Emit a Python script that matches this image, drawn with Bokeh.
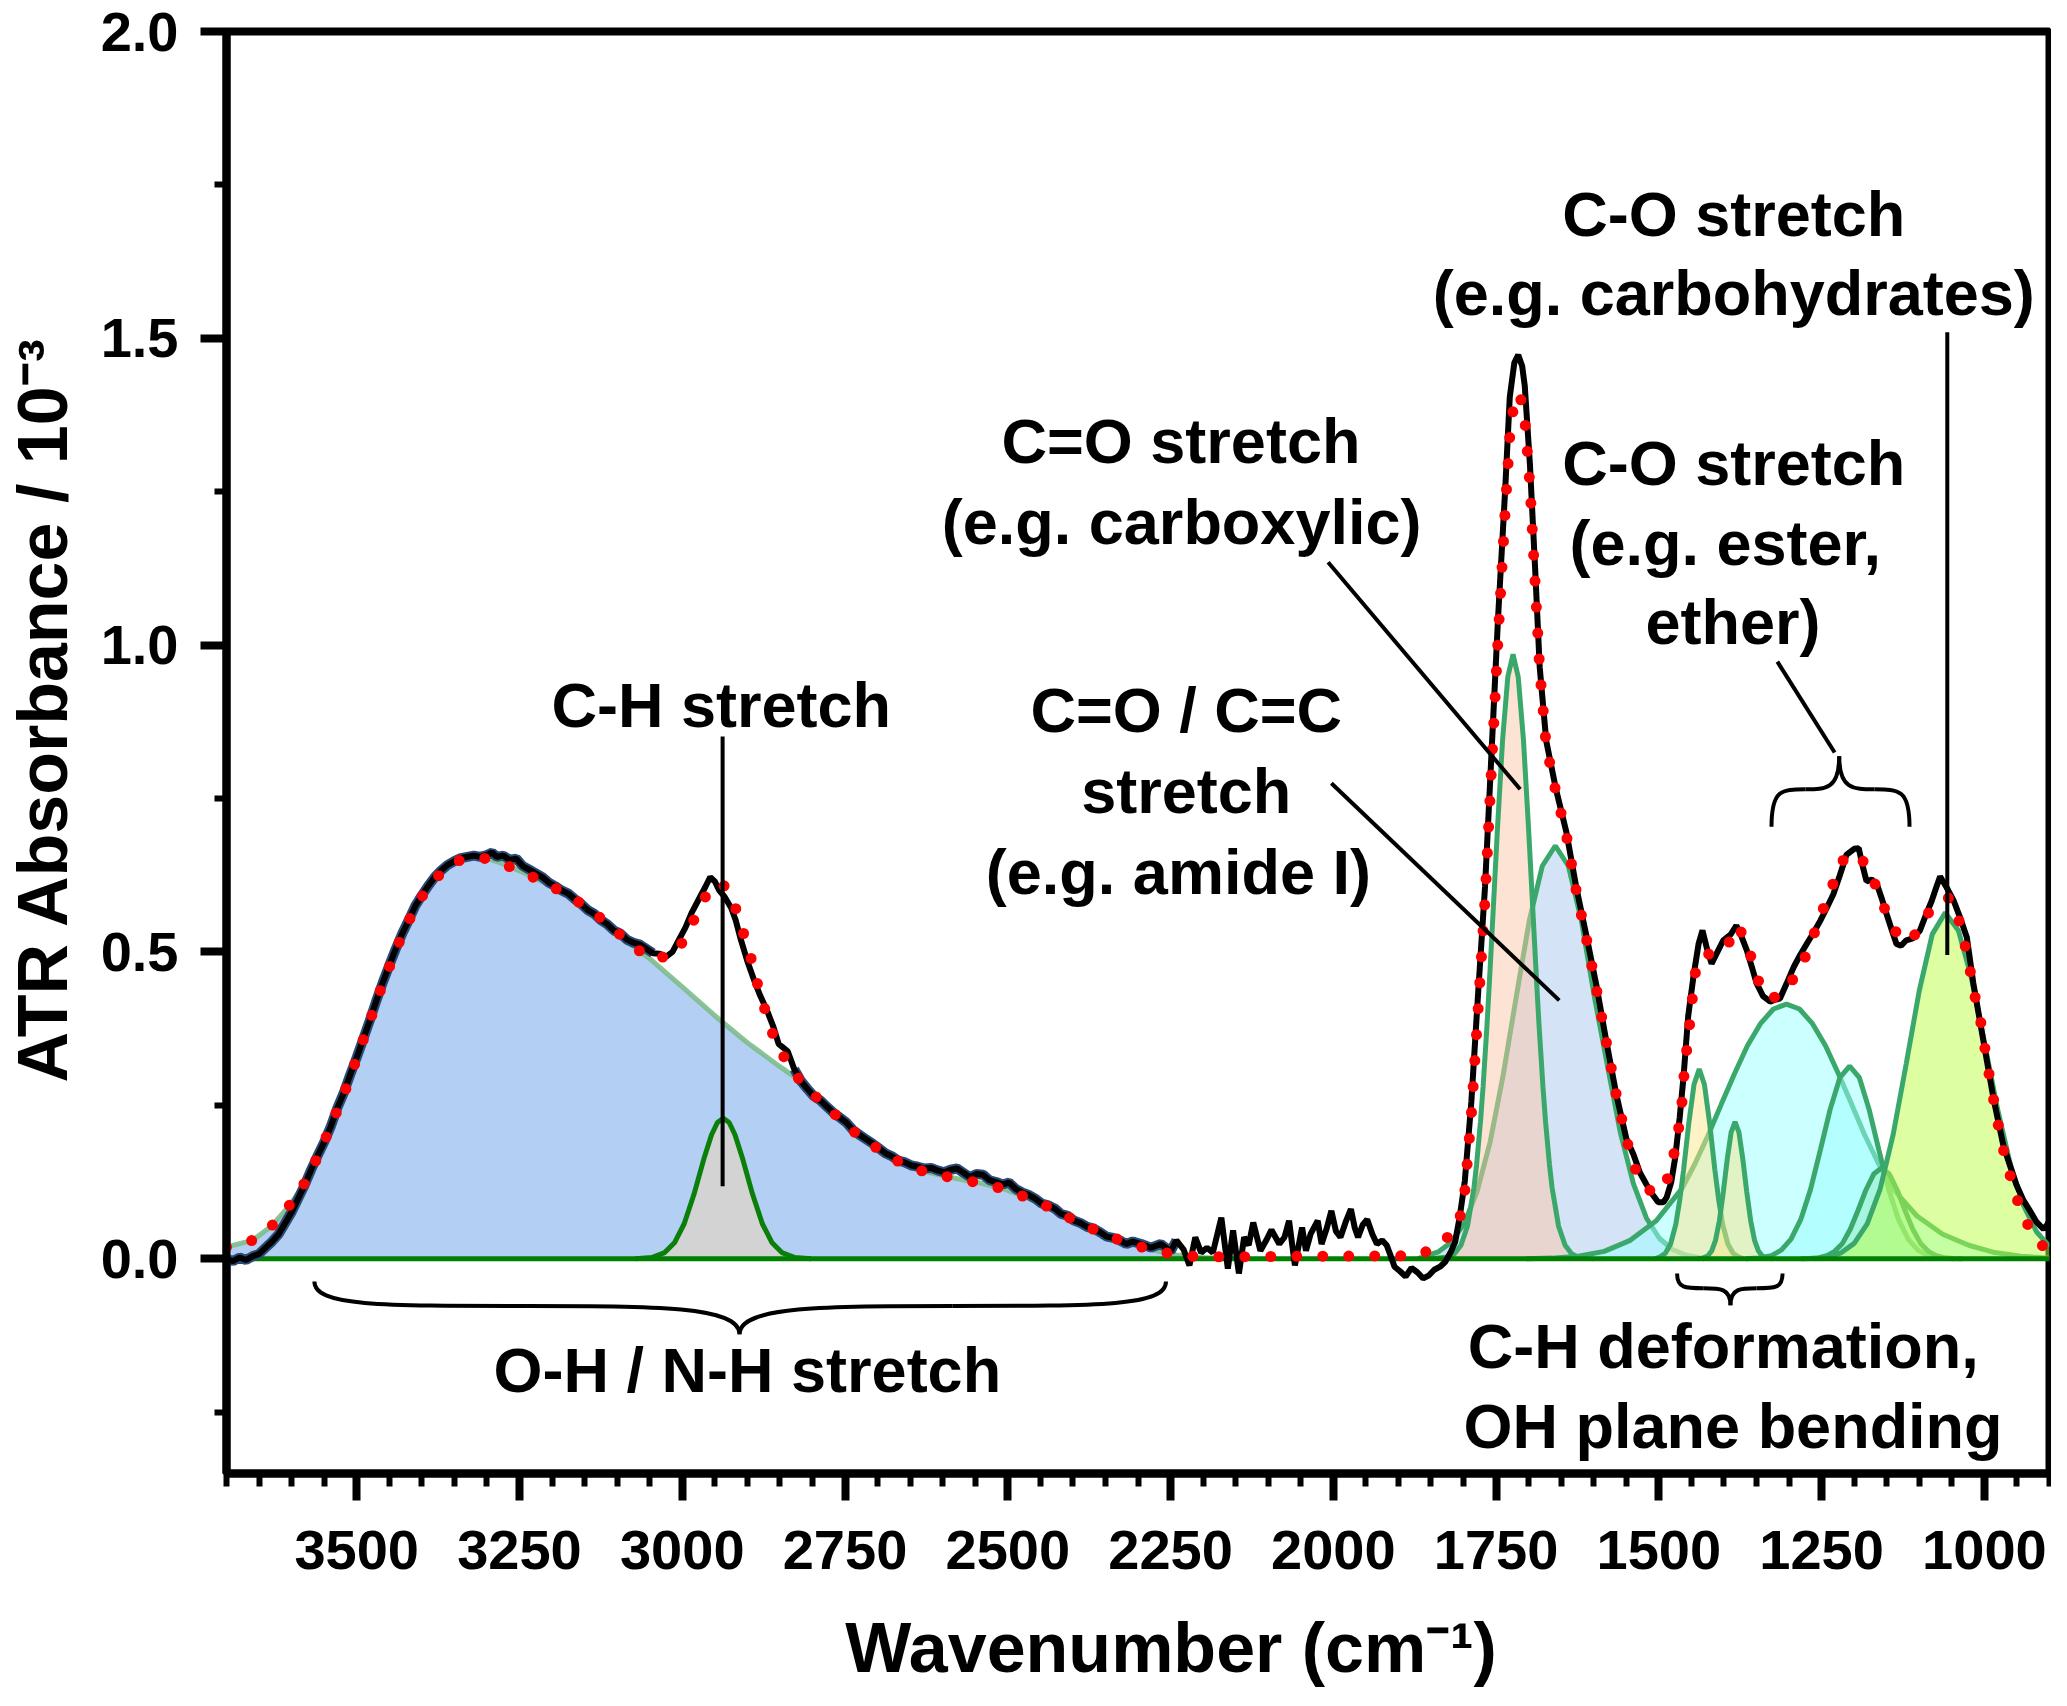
import numpy as np
from bokeh.plotting import figure
from bokeh.layouts import row, column
from bokeh.models import Range1d, FixedTicker, NumeralTickFormatter, Label
from bokeh.core.properties import value
from bokeh.embed import file_html
from bokeh.resources import INLINE

FONT = "Liberation Sans"

# ---- measured ATR spectrum (black) ----
spec_wn = [3700, 3690, 3680, 3670, 3660, 3650, 3640, 3630, 3620, 3610,
           3600, 3590, 3580, 3570, 3560, 3550, 3540, 3530, 3520, 3510,
           3500, 3490, 3480, 3470, 3460, 3450, 3440, 3430, 3420, 3410,
           3400, 3390, 3380, 3370, 3360, 3350, 3340, 3330, 3320, 3310,
           3300, 3292, 3285, 3275, 3265, 3255, 3245, 3235, 3225, 3215,
           3205, 3195, 3185, 3175, 3165, 3155, 3145, 3135, 3125, 3115,
           3105, 3095, 3085, 3075, 3065, 3055, 3045, 3035, 3025, 3015,
           3005, 2995, 2985, 2975, 2965, 2957, 2950, 2943, 2935, 2925,
           2918, 2910, 2900, 2890, 2880, 2870, 2860, 2852, 2845, 2838,
           2828, 2818, 2808, 2798, 2788, 2778, 2768, 2758, 2748, 2738,
           2728, 2718, 2708, 2698, 2688, 2678, 2668, 2658, 2648, 2638,
           2628, 2618, 2608, 2598, 2588, 2578, 2568, 2558, 2548, 2538,
           2528, 2518, 2508, 2498, 2488, 2478, 2468, 2458, 2448, 2438,
           2428, 2418, 2408, 2398, 2388, 2378, 2368, 2358, 2348, 2338,
           2328, 2318, 2308, 2295, 2280, 2265, 2250, 2241, 2230, 2221,
           2212, 2203, 2194, 2185, 2172, 2162, 2154, 2145, 2137, 2130,
           2123, 2112, 2103, 2095, 2083, 2075, 2068, 2059, 2048, 2042,
           2035, 2024, 2018, 2010, 2003, 1996, 1989, 1981, 1973, 1967,
           1962, 1955, 1948, 1940, 1933, 1925, 1918, 1912, 1906, 1898,
           1889, 1880, 1871, 1862, 1853, 1845, 1836, 1828, 1820, 1813,
           1806, 1798, 1788, 1778, 1767, 1757, 1747, 1736, 1729, 1722,
           1716, 1710, 1706, 1698, 1690, 1683, 1673, 1658, 1642, 1627,
           1611, 1596, 1581, 1565, 1550, 1539, 1529, 1519, 1510, 1501,
           1493, 1488, 1481, 1475, 1468, 1462, 1455, 1447, 1439, 1433,
           1426, 1419, 1410, 1401, 1390, 1381, 1373, 1365, 1357, 1350,
           1340, 1329, 1322, 1314, 1304, 1293, 1283, 1273, 1262, 1252,
           1242, 1232, 1222, 1212, 1200, 1193, 1187, 1181, 1173, 1165,
           1157, 1150, 1142, 1135, 1128, 1120, 1110, 1099, 1090, 1081,
           1074, 1068, 1058, 1047, 1037, 1027, 1017, 1001, 986, 971,
           951, 940, 930, 920, 909, 904, 899]
spec_abs = [0.000, -0.004, 0.002, -0.002, 0.004, 0.008, 0.018, 0.028, 0.040, 0.058,
            0.076, 0.098, 0.120, 0.145, 0.168, 0.190, 0.215, 0.245, 0.270, 0.300,
            0.328, 0.358, 0.388, 0.420, 0.450, 0.478, 0.505, 0.530, 0.552, 0.575,
            0.592, 0.608, 0.622, 0.633, 0.642, 0.648, 0.653, 0.655, 0.657, 0.655,
            0.658, 0.662, 0.655, 0.657, 0.650, 0.652, 0.640, 0.634, 0.628, 0.622,
            0.613, 0.607, 0.600, 0.595, 0.586, 0.578, 0.568, 0.562, 0.552, 0.545,
            0.535, 0.530, 0.520, 0.515, 0.512, 0.505, 0.498, 0.497, 0.492, 0.500,
            0.520, 0.540, 0.565, 0.585, 0.605, 0.622, 0.615, 0.600, 0.590, 0.572,
            0.552, 0.520, 0.485, 0.455, 0.428, 0.405, 0.378, 0.350, 0.344, 0.338,
            0.309, 0.290, 0.277, 0.265, 0.258, 0.248, 0.238, 0.230, 0.222, 0.210,
            0.202, 0.195, 0.188, 0.180, 0.172, 0.167, 0.160, 0.157, 0.152, 0.150,
            0.147, 0.148, 0.144, 0.141, 0.145, 0.147, 0.140, 0.133, 0.138, 0.137,
            0.128, 0.125, 0.121, 0.124, 0.114, 0.108, 0.104, 0.098, 0.090, 0.087,
            0.082, 0.073, 0.070, 0.062, 0.058, 0.052, 0.049, 0.043, 0.036, 0.034,
            0.030, 0.024, 0.028, 0.024, 0.018, 0.024, 0.012, 0.030, 0.015, -0.011,
            0.035, 0.010, 0.018, 0.010, 0.067, -0.016, 0.046, -0.024, 0.035, 0.022,
            0.059, 0.013, 0.030, 0.047, 0.024, 0.035, 0.062, -0.011, 0.051, 0.013,
            0.040, 0.062, 0.024, 0.050, 0.078, 0.045, 0.035, 0.060, 0.081, 0.050,
            0.035, 0.055, 0.064, 0.040, 0.024, 0.030, 0.022, 0.005, -0.013, -0.020,
            -0.029, -0.015, -0.022, -0.032, -0.027, -0.018, -0.013, -0.005, 0.010, 0.027,
            0.067, 0.127, 0.256, 0.426, 0.606, 0.825, 1.044, 1.254, 1.404, 1.460,
            1.473, 1.455, 1.423, 1.294, 1.124, 0.964, 0.844, 0.765, 0.695, 0.606,
            0.525, 0.446, 0.356, 0.266, 0.196, 0.170, 0.140, 0.121, 0.105, 0.092,
            0.092, 0.100, 0.125, 0.164, 0.230, 0.298, 0.395, 0.459, 0.513, 0.535,
            0.505, 0.481, 0.500, 0.519, 0.528, 0.543, 0.525, 0.503, 0.475, 0.449,
            0.428, 0.419, 0.422, 0.424, 0.448, 0.475, 0.495, 0.513, 0.532, 0.551,
            0.572, 0.594, 0.625, 0.658, 0.668, 0.669, 0.640, 0.615, 0.618, 0.610,
            0.585, 0.561, 0.535, 0.513, 0.510, 0.519, 0.522, 0.535, 0.560, 0.583,
            0.605, 0.623, 0.605, 0.583, 0.555, 0.524, 0.449, 0.352, 0.261, 0.185,
            0.121, 0.095, 0.078, 0.060, 0.048, 0.055, 0.064]

# ---- cumulative fit (red dotted) ----
fit_wn = [3700, 3660, 3631, 3607, 3586, 3567, 3551, 3536, 3522, 3508,
          3496, 3482, 3470, 3456, 3442, 3426, 3409, 3387, 3356, 3338,
          3320, 3300, 3281, 3245, 3208, 3171, 3138, 3109, 3081, 3050,
          3013, 2993, 2977, 2958, 2940, 2931, 2916, 2905, 2893,
          2884, 2873, 2861, 2842, 2817, 2789, 2759, 2732, 2702, 2671,
          2635, 2599, 2562, 2540, 2504, 2467, 2430, 2394, 2355, 2318,
          2281, 2241, 2202, 1869, 1844, 1816, 1806,
          1798, 1788, 1778, 1767, 1757, 1747, 1736, 1729, 1721, 1713,
          1706, 1698, 1690, 1683, 1673, 1658, 1642, 1627, 1611, 1596,
          1581, 1565, 1550, 1537, 1516, 1500, 1491, 1480, 1473, 1466,
          1463, 1460, 1455, 1451, 1447, 1442, 1432, 1421, 1410, 1398,
          1388, 1379, 1364, 1353, 1340, 1325, 1309, 1287, 1270, 1257,
          1243, 1229, 1218, 1207, 1192, 1178, 1164, 1149, 1129, 1115,
          1103, 1084, 1068, 1054, 1041, 1031, 1023, 1017, 1007, 1001,
          995, 988, 981, 974, 964, 954, 941, 920, 900]
fit_abs = [0.019, 0.030, 0.053, 0.082, 0.112, 0.150, 0.188, 0.226, 0.262, 0.301,
           0.340, 0.379, 0.420, 0.458, 0.498, 0.537, 0.575, 0.611, 0.643, 0.651,
           0.654, 0.652, 0.646, 0.630, 0.611, 0.590, 0.566, 0.541, 0.514, 0.489,
           0.494, 0.527, 0.564, 0.603, 0.612, 0.603, 0.566, 0.527, 0.485,
           0.446, 0.406, 0.366, 0.325, 0.287, 0.258, 0.229, 0.203, 0.181, 0.160,
           0.144, 0.135, 0.127, 0.123, 0.113, 0.098, 0.081, 0.060, 0.042, 0.026,
           0.015, 0.006, 0.003, 0.005, 0.019, 0.042, 0.065,
           0.110, 0.235, 0.400, 0.585, 0.800, 1.010, 1.220, 1.340, 1.408, 1.405,
           1.370, 1.260, 1.100, 0.960, 0.835, 0.760, 0.690, 0.600, 0.520, 0.440,
           0.355, 0.265, 0.195, 0.148, 0.112, 0.108, 0.117, 0.153, 0.193, 0.234,
           0.276, 0.317, 0.359, 0.400, 0.440, 0.482, 0.495, 0.497, 0.499, 0.503,
           0.525, 0.543, 0.513, 0.471, 0.432, 0.425, 0.433, 0.466, 0.503, 0.544,
           0.583, 0.620, 0.648, 0.661, 0.655, 0.637, 0.600, 0.559, 0.519, 0.520,
           0.532, 0.567, 0.585, 0.588, 0.559, 0.517, 0.477, 0.438, 0.395, 0.355,
           0.314, 0.272, 0.231, 0.191, 0.150, 0.110, 0.070, 0.031, 0.010]

# ---- fitted component bands ----
oh_wn = [3700, 3660, 3631, 3607, 3586, 3567, 3551, 3536, 3522, 3508,
         3496, 3482, 3470, 3456, 3442, 3426, 3409, 3387, 3356, 3338,
         3320, 3300, 3281, 3245, 3208, 3171, 3138, 3109, 3081, 3050,
         3000, 2950, 2900, 2850, 2815, 2789, 2759, 2732, 2702, 2671,
         2635, 2599, 2562, 2540, 2504, 2467, 2430, 2394, 2355, 2318,
         2281, 2241, 2202, 2160]
oh_abs = [0.019, 0.030, 0.053, 0.082, 0.112, 0.150, 0.188, 0.226, 0.262, 0.301,
          0.340, 0.379, 0.420, 0.458, 0.498, 0.537, 0.575, 0.611, 0.643, 0.651,
          0.654, 0.652, 0.646, 0.630, 0.611, 0.590, 0.566, 0.541, 0.514, 0.489,
          0.443, 0.396, 0.352, 0.313, 0.287, 0.258, 0.229, 0.203, 0.181, 0.160,
          0.144, 0.135, 0.127, 0.123, 0.113, 0.098, 0.081, 0.060, 0.042, 0.026,
          0.015, 0.006, 0.002, 0.0]

ch_wn = [3072, 3047, 3027, 3012, 2997, 2982, 2967, 2955, 2946, 2937,
         2928, 2919, 2907, 2892, 2877, 2862, 2847, 2827, 2802]
ch_abs = [0.0, 0.002, 0.010, 0.026, 0.057, 0.105, 0.162, 0.202, 0.222, 0.229,
          0.222, 0.202, 0.162, 0.105, 0.057, 0.026, 0.010, 0.002, 0.0]

acid_wn = [1850, 1824, 1814, 1804, 1794, 1784, 1780, 1774, 1770, 1764, 1760,
           1754, 1748, 1740, 1732, 1724, 1716, 1708, 1700, 1694, 1688,
           1684, 1678, 1674, 1668, 1664, 1654, 1644, 1634, 1624, 1600]
acid_abs = [0.0, 0.003, 0.008, 0.022, 0.053, 0.116, 0.153, 0.223, 0.280, 0.380, 0.456,
            0.577, 0.699, 0.846, 0.948, 0.985, 0.948, 0.846, 0.699, 0.577, 0.456,
            0.380, 0.280, 0.223, 0.153, 0.116, 0.053, 0.022, 0.008, 0.003, 0.0]

amide_wn = [1870, 1859, 1839, 1819, 1799, 1779, 1759, 1739, 1719, 1699,
            1679, 1659, 1639, 1619, 1599, 1579, 1559, 1539, 1519, 1499,
            1479, 1459, 1430]
amide_abs = [0.0, 0.004, 0.011, 0.027, 0.057, 0.110, 0.191, 0.300, 0.427, 0.551,
             0.640, 0.673, 0.640, 0.551, 0.427, 0.315, 0.205, 0.122, 0.066, 0.033,
             0.015, 0.006, 0.0]

b1438_wn = [1506, 1498, 1490, 1482, 1474, 1468, 1462, 1454, 1446, 1438,
            1430, 1422, 1414, 1408, 1402, 1394, 1386, 1378, 1370]
b1438_abs = [0.0, 0.003, 0.009, 0.024, 0.056, 0.095, 0.145, 0.221, 0.284, 0.309,
             0.284, 0.221, 0.145, 0.095, 0.056, 0.024, 0.009, 0.003, 0.0]

b1383_wn = [1441, 1433, 1425, 1419, 1413, 1407, 1401, 1395, 1389, 1383,
            1377, 1371, 1365, 1359, 1353, 1347, 1341, 1333, 1325]
b1383_abs = [0.0, 0.001, 0.0045, 0.0125, 0.030, 0.062, 0.109, 0.162, 0.206, 0.223,
             0.206, 0.162, 0.109, 0.062, 0.030, 0.0125, 0.0045, 0.001, 0.0]

b1304_wn = [1704, 1664, 1624, 1584, 1544, 1504, 1464, 1444, 1424, 1404,
            1384, 1364, 1344, 1324, 1304, 1284, 1264, 1244, 1224, 1204,
            1184, 1164, 1144, 1104, 1064, 1024, 984, 944, 900]
b1304_abs = [0.0, 0.001, 0.004, 0.012, 0.030, 0.062, 0.115, 0.156, 0.202, 0.252,
             0.301, 0.347, 0.383, 0.407, 0.415, 0.407, 0.383, 0.347, 0.301, 0.252,
             0.202, 0.158, 0.118, 0.070, 0.040, 0.022, 0.010, 0.004, 0.001]

b1207_wn = [1367, 1347, 1327, 1312, 1297, 1282, 1267, 1252, 1237, 1222,
            1207, 1192, 1177, 1162, 1147, 1132, 1117, 1102, 1087, 1067, 1047]
b1207_abs = [0.0, 0.0012, 0.005, 0.014, 0.032, 0.064, 0.113, 0.177, 0.243, 0.295,
             0.314, 0.295, 0.243, 0.177, 0.113, 0.064, 0.032, 0.014, 0.005, 0.0012, 0.0]

b1158_wn = [1282, 1268, 1254, 1242, 1230, 1218, 1206, 1194, 1182, 1170,
            1158, 1146, 1134, 1122, 1110, 1098, 1086, 1074, 1062, 1048, 1034]
b1158_abs = [0.0, 0.0004, 0.0016, 0.005, 0.012, 0.025, 0.048, 0.079, 0.112, 0.138,
             0.148, 0.138, 0.112, 0.079, 0.048, 0.025, 0.012, 0.005, 0.0016, 0.0004, 0.0]

b1060_wn = [1260, 1240, 1220, 1200, 1180, 1160, 1140, 1120, 1100, 1080,
            1060, 1040, 1020, 1000, 980, 960, 940, 920, 900]
b1060_abs = [0.0, 0.003, 0.0096, 0.025, 0.057, 0.114, 0.203, 0.318, 0.437, 0.529,
             0.564, 0.535, 0.458, 0.353, 0.245, 0.153, 0.087, 0.044, 0.020]

# ---- axes ----
x_major = [3500, 3250, 3000, 2750, 2500, 2250, 2000, 1750, 1500, 1250, 1000]
x_minor = list(range(900, 3701, 50))
y_major = [0.0, 0.5, 1.0, 1.5, 2.0]
y_minor = [-0.25, 0.25, 0.75, 1.25, 1.75]
X_LO, X_HI = 3700, 900
Y_LO, Y_HI = -0.35, 2.0
X_TITLE = "Wavenumber (cm\u207b\u00b9)"
Y_TITLE = "ATR Absorbance / 10\u207b\u00b3"

# ---- annotation geometry (data units, vertical centre of each text line) ----
notes = [
    ("C-O stretch", 1385, 1.703),
    ("(e.g. carbohydrates)", 1385, 1.574),
    ("C=O stretch", 2234, 1.332),
    ("(e.g. carboxylic)", 2233, 1.200),
    ("C-O stretch", 1385, 1.297),
    ("(e.g. ester,", 1398, 1.167),
    ("ether)", 1386, 1.038),
    ("C-H stretch", 2940, 0.903),
    ("C=O / C=C", 2226, 0.894),
    ("stretch", 2226, 0.762),
    ("(e.g. amide I)", 2238, 0.630),
    ("O-H / N-H stretch", 2900, -0.182),
    ("C-H deformation,", 1401, -0.142),
    ("OH plane bending", 1386, -0.272),
]
leader_x0 = [2938, 2008, 2003, 1057, 1318]
leader_y0 = [0.851, 1.135, 0.775, 1.510, 0.973]
leader_x1 = [2938, 1713, 1653, 1057, 1230]
leader_y1 = [0.118, 0.765, 0.421, 0.495, 0.825]
# braces: (end 1, end 2, tip, y at ends, y of run, y at tip)
braces = [
    (3565, 2257, 2912, -0.037, -0.077, -0.123),
    (1472, 1310, 1390, -0.024, -0.048, -0.076),
    (1327, 1115, 1223, 0.704, 0.765, 0.819),
]

# ---- page geometry (px) ----
W, H = 2051, 1690
TITLE_W = 96          # strip left of the plot holding the y title
TITLE_H = 77          # strip under the plot holding the x title
PLOT_W, PLOT_H = W - TITLE_W, H - TITLE_H

p = figure(width=PLOT_W, height=PLOT_H, x_range=Range1d(X_LO, X_HI), y_range=Range1d(Y_LO, Y_HI),
           output_backend="svg", toolbar_location=None,
           min_border_left=226 - TITLE_W, min_border_right=2, min_border_top=31,
           min_border_bottom=PLOT_H - 1473)
p.xgrid.visible = False
p.ygrid.visible = False
p.background_fill_color = "white"
p.border_fill_color = "white"
p.outline_line_color = "black"
p.outline_line_width = 8
p.outline_line_alpha = 1.0

for ax in (p.xaxis[0], p.yaxis[0]):
    ax.axis_line_width = 8
    ax.major_tick_line_width = 8
    ax.minor_tick_line_width = 6
    ax.major_tick_in = 0
    ax.minor_tick_in = 0
    ax.major_label_text_font = FONT
    ax.major_label_text_font_style = "bold"
    ax.major_label_text_font_size = "56px"
    ax.major_label_text_color = "black"
p.xaxis.ticker = FixedTicker(ticks=x_major, minor_ticks=x_minor)
p.yaxis.ticker = FixedTicker(ticks=y_major, minor_ticks=y_minor)
p.yaxis.formatter = NumeralTickFormatter(format="0.0")
p.xaxis.major_tick_out = 27
p.xaxis.minor_tick_out = 13
p.yaxis.major_tick_out = 26
p.yaxis.minor_tick_out = 12
p.xaxis.major_label_standoff = 30
p.yaxis.major_label_standoff = 22

EDGE = "#3aa86b"


def band(xs, ys, fill, alpha, line_color=EDGE, line_alpha=1.0, width=5):
    p.varea(x=xs, y1=0, y2=ys, fill_color=fill, fill_alpha=alpha)
    p.line(xs, ys, line_color=line_color, line_width=width, line_alpha=line_alpha)


band(oh_wn, oh_abs, "#b3cff4", 1.0, line_color="#7dbd8c", line_alpha=0.9)
band(ch_wn, ch_abs, "#d3d3d3", 1.0, line_color="#0a800a")
band(amide_wn, amide_abs, "#abc8ef", 0.5)
band(acid_wn, acid_abs, "#fbc8a8", 0.5)
band(b1304_wn, b1304_abs, "#99ffff", 0.5)
band(b1438_wn, b1438_abs, "#fde58f", 0.5)
band(b1383_wn, b1383_abs, "#f5e68c", 0.5)
band(b1207_wn, b1207_abs, "#99ffff", 0.5)
band(b1158_wn, b1158_abs, "#9aeec0", 0.5)
band(b1060_wn, b1060_abs, "#bbff44", 0.5)

# zero line
p.line([X_LO, X_HI], [0, 0], line_color="#008000", line_width=5)

# measured spectrum, with the dark blue edge of the O-H band under it
sw = np.array(spec_wn, dtype=float)
sa = np.array(spec_abs, dtype=float)
edge_mask = (sw >= 3040) | ((sw <= 2830) & (sw >= 2240))
p.line(sw, np.where(edge_mask, sa, np.nan), line_color="#2b4a78", line_width=10)
p.line(sw, sa, line_color="black", line_width=6)

# fit
p.line(fit_wn, fit_abs, line_color="#ff0000", line_width=11, line_dash="0 26", line_cap="round")

# leaders and braces
p.segment(x0=leader_x0, y0=leader_y0, x1=leader_x1, y1=leader_y1, line_color="black", line_width=4)
bx0, by0, bx1, by1, bcx0, bcy0, bcx1, bcy1 = ([] for _ in range(8))
for e1, e2, xt, ye, ym, yt in braces:
    for xe in (e1, e2):
        xa = (xe + xt) / 2
        for seg in ((xe, ye, xa, ym, xe, ym, xe + 0.3 * (xa - xe), ym),
                    (xa, ym, xt, yt, xa + 0.6 * (xt - xa), ym, xt, ym)):
            for lst, v in zip((bx0, by0, bx1, by1, bcx0, bcy0, bcx1, bcy1), seg):
                lst.append(v)
p.bezier(x0=bx0, y0=by0, x1=bx1, y1=by1, cx0=bcx0, cy0=bcy0, cx1=bcx1, cy1=bcy1,
         line_color="black", line_width=4)

for txt, x, y in notes:
    p.add_layout(Label(x=x, y=y, text=txt, text_align="center", text_baseline="middle",
                       text_font=FONT, text_font_style="bold", text_font_size="63px",
                       text_color="black"))


def strip(w, h):
    f = figure(width=w, height=h, x_range=Range1d(0, w), y_range=Range1d(0, h),
               output_backend="svg", toolbar_location=None,
               x_axis_location=None, y_axis_location=None, min_border=0)
    f.grid.visible = False
    f.outline_line_color = None
    f.background_fill_color = "white"
    f.border_fill_color = "white"
    return f


def write(f, txt, x, y, size, angle=0.0):
    f.text(x=[x], y=[y], text=[txt], angle=angle, text_align="center", text_baseline="middle",
           text_font=value(FONT), text_font_style="bold", text_font_size=size,
           text_color="black")


# axis titles live in thin strips beside the plot (strip data units ~ pixels, y upward);
# the column lines the x strip's frame up with the plot frame, so its x scale follows it
xt = strip(PLOT_W, TITLE_H)
write(xt, X_TITLE, 1013, 43, "70px")

yt = strip(TITLE_W, H)
write(yt, Y_TITLE, 42, 981, "70px", angle=np.pi / 2)

layout = row(yt, column(p, xt))
open("out.html", "w").write(file_html(layout, INLINE))
